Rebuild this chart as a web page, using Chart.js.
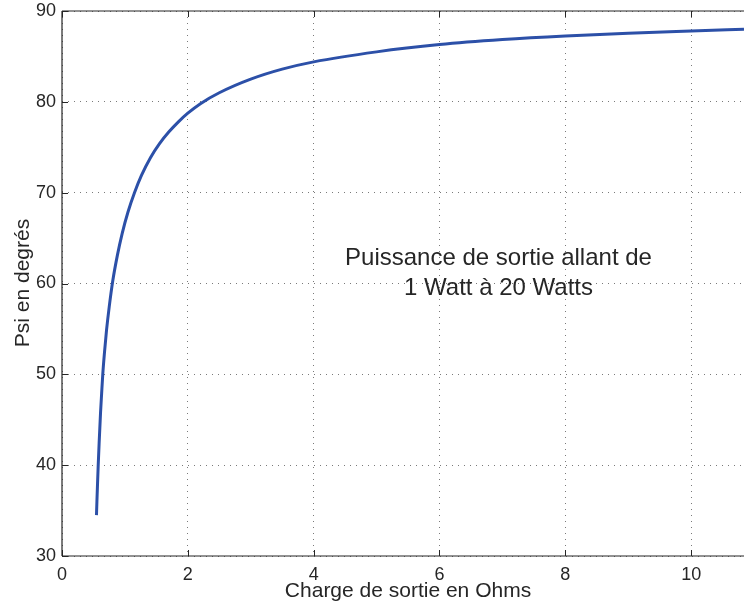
<!DOCTYPE html>
<html>
<head>
<meta charset="utf-8">
<script src="https://cdn.jsdelivr.net/npm/chart.js@4"></script>
<style>
  html, body { margin: 0; padding: 0; background: #fff; }
  #wrap { width: 744px; height: 603px; position: relative; }
</style>
</head>
<body>
<div id="wrap"><canvas id="chart"></canvas></div>
<script>
// ── data ────────────────────────────────────────────────────────────────────
const chargeOhms = [0.548, 0.555, 0.565, 0.575, 0.59, 0.612, 0.63, 0.648, 0.675, 0.707, 0.75, 0.807, 0.88, 0.956, 1.05, 1.152, 1.263, 1.406, 1.55, 1.7, 1.85, 2.0, 2.2, 2.5, 3.0, 3.5, 4.0, 5.0, 6.0, 7.0, 8.0, 9.0, 10.0, 10.84];
const psiDeg     = [34.5, 36.0, 38.0, 39.9, 42.4, 45.7, 47.9, 50.0, 52.4, 54.8, 57.4, 60.3, 63.1, 65.5, 67.9, 70.0, 71.9, 73.85, 75.4, 76.7, 77.8, 78.75, 79.8, 81.0, 82.5, 83.6, 84.4, 85.5, 86.3, 86.85, 87.25, 87.55, 87.8, 88.0];
const xTicks = [0, 2, 4, 6, 8, 10];
const yTicks = [30, 40, 50, 60, 70, 80, 90];

const xTitle = 'Charge de sortie en Ohms';
const yTitle = 'Psi en degrés';
const note = ['Puissance de sortie allant de', '1 Watt à 20 Watts'];

const FONT = '"Liberation Sans", Arial, sans-serif';
const INK = '#262626';

// frame + inner ticks + texts, MATLAB style
const decor = {
  id: 'decor',
  afterDraw(chart) {
    const { ctx, chartArea: a, scales: { x, y } } = chart;
    ctx.save();
    ctx.strokeStyle = INK;
    ctx.lineWidth = 1.2;
    ctx.beginPath();
    ctx.moveTo(a.left, a.top); ctx.lineTo(a.right, a.top);
    ctx.moveTo(a.left, a.top); ctx.lineTo(a.left, a.bottom);
    ctx.moveTo(a.left, a.bottom); ctx.lineTo(a.right, a.bottom);
    ctx.stroke();
    ctx.lineWidth = 1;
    ctx.beginPath();
    xTicks.forEach(v => {
      const px = Math.round(x.getPixelForValue(v)) + 0.5;
      ctx.moveTo(px, a.top); ctx.lineTo(px, a.top + 6);
      ctx.moveTo(px, a.bottom); ctx.lineTo(px, a.bottom - 6);
    });
    yTicks.forEach(v => {
      const py = Math.round(y.getPixelForValue(v)) + 0.5;
      ctx.moveTo(a.left, py); ctx.lineTo(a.left + 6, py);
    });
    ctx.stroke();

    ctx.fillStyle = INK;
    ctx.textAlign = 'center';
    ctx.textBaseline = 'alphabetic';
    ctx.font = '21px ' + FONT;
    ctx.fillText(xTitle, 408, 597);
    ctx.save();
    ctx.translate(28.5, 283);
    ctx.rotate(-Math.PI / 2);
    ctx.fillText(yTitle, 0, 0);
    ctx.restore();
    ctx.font = '24px ' + FONT;
    ctx.fillText(note[0], 498.5, 265);
    ctx.fillText(note[1], 498.5, 295);
    ctx.restore();
  },
};

new Chart(document.getElementById('chart'), {
  type: 'scatter',
  data: {
    datasets: [{
      data: chargeOhms.map((c, i) => ({ x: c, y: psiDeg[i] })),
      showLine: true,
      borderColor: '#2c50a8',
      borderWidth: 3,
      pointRadius: 0,
      cubicInterpolationMode: 'monotone',
    }],
  },
  options: {
    responsive: true,
    maintainAspectRatio: false,
    animation: false,
    layout: { padding: { top: 11, right: 0, left: 0, bottom: 0 } },
    plugins: { legend: { display: false }, tooltip: { enabled: false } },
    scales: {
      x: {
        type: 'linear',
        min: 0,
        max: 10.84,
        afterBuildTicks: s => { s.ticks = xTicks.map(v => ({ value: v })); },
        afterFit: s => { s.height = 47; s.paddingLeft = 0; s.paddingRight = 0; },
        border: { display: false, dash: [1, 5] },
        grid: { color: '#7a7a7a', lineWidth: 1, drawTicks: false },
        ticks: { color: INK, font: { family: FONT, size: 18 }, padding: 8, maxRotation: 0 },
      },
      y: {
        min: 30,
        max: 90,
        afterBuildTicks: s => { s.ticks = yTicks.map(v => ({ value: v })); },
        afterFit: s => { s.width = 62; s.paddingTop = 0; s.paddingBottom = 0; },
        border: { display: false, dash: [1, 5] },
        grid: { color: '#7a7a7a', lineWidth: 1, drawTicks: false },
        ticks: { color: INK, font: { family: FONT, size: 18 }, padding: 6 },
      },
    },
  },
  plugins: [decor],
});
</script>
</body>
</html>
